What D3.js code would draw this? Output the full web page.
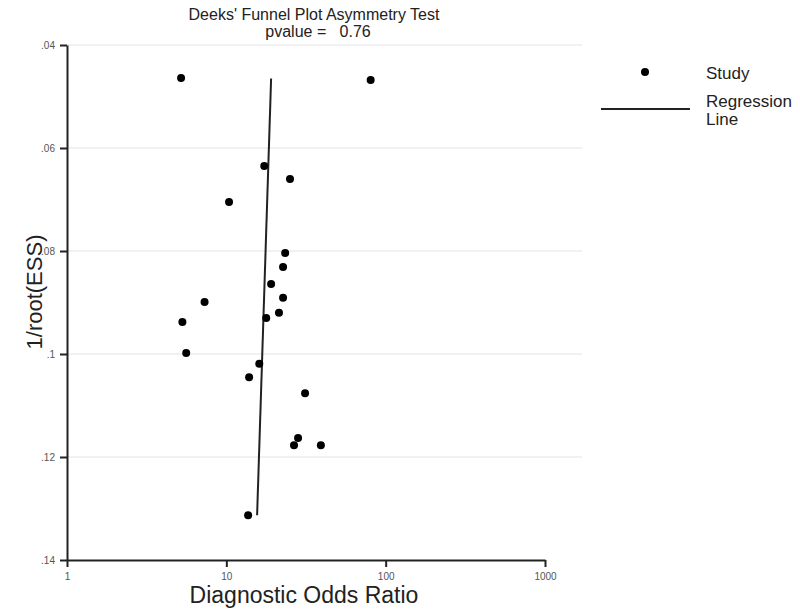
<!DOCTYPE html>
<html lang="en">
<head>
    <meta charset="UTF-8">
    <title>Deeks' Funnel Plot Asymmetry Test</title>
    <style>
        body {
            margin: 0;
            background-color: #ffffff;
            font-family: "Liberation Sans", Arial, sans-serif;
        }
        .grid-line {
            stroke: #ececec;
            stroke-width: 1.5;
        }
        .axis path, .axis line {
            stroke: #222;
            stroke-width: 2;
        }
        .axis text {
            fill: #555;
            font-size: 10px;
        }
    </style>
</head>
<body>
    <svg id="chart" width="800" height="615"></svg>

    <script src="https://d3js.org/d3.v7.min.js"></script>
    <script>
        // Studies: diagnostic odds ratio and 1/root(ESS)
        var studyDOR = [5.2, 80.5, 17.3, 25.1, 10.4, 23.4, 22.7, 19.1, 22.7, 7.3, 21.4,
                        17.8, 5.3, 5.6, 16.1, 13.9, 31.2, 28.2, 26.6, 39.2, 13.7];
        var studyESS = [0.0464, 0.0468, 0.0635, 0.0660, 0.0705, 0.0804, 0.0831, 0.0864, 0.0891, 0.0899, 0.0920,
                        0.0930, 0.0938, 0.0998, 0.1019, 0.1045, 0.1076, 0.1163, 0.1177, 0.1177, 0.1313];

        // Regression line endpoints
        var regDOR = [19.1, 15.6];
        var regESS = [0.0465, 0.1313];

        // Axis ticks
        var xTicks = [1, 10, 100, 1000];
        var yTicks = [0.04, 0.06, 0.08, 0.1, 0.12, 0.14];
        var yTickLabels = ['.04', '.06', '.08', '.1', '.12', '.14'];

        var pvalue = '0.76';

        var plotLeft = 67, plotRight = 545, plotTop = 45, plotBottom = 560;

        var svg = d3.select('#chart');

        var xScale = d3.scaleLog()
            .domain([1, 1000])
            .range([plotLeft, plotRight]);

        var yScale = d3.scaleLinear()
            .domain([0.04, 0.14])
            .range([plotTop, plotBottom]);

        // Grid lines
        svg.append('g')
            .selectAll('line')
            .data(yTicks.slice(0, -1))
            .enter()
            .append('line')
            .attr('class', 'grid-line')
            .attr('x1', plotLeft)
            .attr('x2', 582)
            .attr('y1', d => yScale(d))
            .attr('y2', d => yScale(d));

        // Y axis
        var yAxis = d3.axisLeft(yScale)
            .tickValues(yTicks)
            .tickSize(7)
            .tickSizeOuter(0)
            .tickPadding(5)
            .tickFormat((d, i) => yTickLabels[i]);
        svg.append('g')
            .attr('class', 'axis')
            .attr('transform', `translate(${plotLeft}, 0)`)
            .call(yAxis);

        // X axis
        var xAxis = d3.axisBottom(xScale)
            .tickValues(xTicks)
            .tickSize(7)
            .tickSizeOuter(0)
            .tickPadding(6)
            .tickFormat(d3.format('d'));
        svg.append('g')
            .attr('class', 'axis')
            .attr('transform', `translate(0, ${plotBottom})`)
            .call(xAxis);

        // Regression line
        var line = d3.line()
            .x(d => xScale(d[0]))
            .y(d => yScale(d[1]));
        svg.append('path')
            .datum(regDOR.map((d, i) => [d, regESS[i]]))
            .attr('d', line)
            .attr('fill', 'none')
            .attr('stroke', '#222')
            .attr('stroke-width', 2);

        // Study points
        svg.append('g')
            .selectAll('circle')
            .data(studyDOR.map((d, i) => [d, studyESS[i]]))
            .enter()
            .append('circle')
            .attr('cx', d => xScale(d[0]))
            .attr('cy', d => yScale(d[1]))
            .attr('r', 4)
            .attr('fill', '#000');

        // Title
        svg.append('text')
            .attr('x', 314)
            .attr('y', 20)
            .attr('text-anchor', 'middle')
            .attr('font-size', 16)
            .attr('fill', '#222')
            .text("Deeks' Funnel Plot Asymmetry Test");
        svg.append('text')
            .attr('x', 318)
            .attr('y', 37)
            .attr('text-anchor', 'middle')
            .attr('font-size', 16)
            .attr('fill', '#222')
            .attr('xml:space', 'preserve')
            .text('pvalue =   ' + pvalue);

        // Axis labels
        svg.append('text')
            .attr('x', 304)
            .attr('y', 603)
            .attr('text-anchor', 'middle')
            .attr('font-size', 23)
            .attr('fill', '#222')
            .text('Diagnostic Odds Ratio');
        svg.append('text')
            .attr('transform', 'translate(42, 292) rotate(-90)')
            .attr('text-anchor', 'middle')
            .attr('font-size', 22)
            .attr('fill', '#222')
            .text('1/root(ESS)');

        // Legend
        var legend = svg.append('g');
        legend.append('circle')
            .attr('cx', 645)
            .attr('cy', 72)
            .attr('r', 4)
            .attr('fill', '#000');
        legend.append('text')
            .attr('x', 706)
            .attr('y', 79)
            .attr('font-size', 17)
            .attr('fill', '#222')
            .text('Study');
        legend.append('line')
            .attr('x1', 601)
            .attr('x2', 690)
            .attr('y1', 109)
            .attr('y2', 109)
            .attr('stroke', '#222')
            .attr('stroke-width', 2);
        legend.append('text')
            .attr('x', 706)
            .attr('y', 107)
            .attr('font-size', 17)
            .attr('fill', '#222')
            .text('Regression');
        legend.append('text')
            .attr('x', 706)
            .attr('y', 125)
            .attr('font-size', 17)
            .attr('fill', '#222')
            .text('Line');
    </script>
</body>
</html>
